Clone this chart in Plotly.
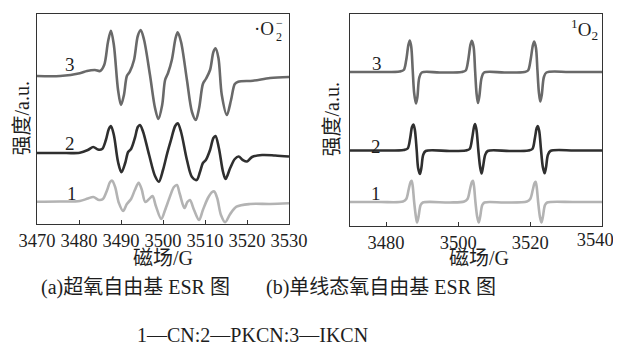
import plotly.graph_objects as go

# ---------------- Panel (a): superoxide radical ESR ----------------
a_ticks = [3470, 3480, 3490, 3500, 3510, 3520, 3530]

a_ikcn_x = [3470, 3475.5, 3480.2, 3481.9, 3483.8, 3485, 3486, 3486.9, 3487.6, 3488.3, 3489.3, 3490,
            3490.7, 3491.4, 3492.1, 3493.1, 3494, 3494.7, 3495.5, 3496.9, 3498.1, 3498.9, 3499.8,
            3500.5, 3501.2, 3502.1, 3503, 3503.5, 3504.3, 3505.7, 3506.9, 3507.8, 3508.6, 3509.5,
            3510.2, 3511.2, 3512, 3512.5, 3513.2, 3514, 3515.2, 3516.2, 3517.1, 3517.9, 3521.4,
            3525.5, 3530]
a_ikcn_y = [148, 148, 150.7, 153, 154, 153, 159, 182, 193.3, 179, 134, 119,
            129, 148, 152.3, 164, 188, 194, 184, 149, 116, 105, 119,
            144, 151, 164, 186, 191.7, 182, 144, 112, 104, 116, 140,
            145, 154, 172, 175.7, 166, 129, 109, 124, 140, 142.3, 143.3,
            146, 147]

a_pkcn_x = [3470, 3475.5, 3480.2, 3482.1, 3483.4, 3484.5, 3485.5, 3486.4, 3487.1, 3487.6, 3488.3,
            3489.3, 3490.1, 3491, 3491.7, 3492.4, 3493.3, 3494, 3494.5, 3495.2, 3496.7, 3498.1,
            3499, 3500, 3501, 3501.9, 3502.9, 3503.5, 3504.3, 3505.7, 3506.9, 3508, 3508.8,
            3509.5, 3510.2, 3511.2, 3512, 3512.5, 3513.3, 3514.3, 3514.9, 3516, 3517.1, 3518,
            3519, 3520, 3521.2, 3523.6, 3526.7, 3530]
a_pkcn_y = [71, 71, 71.3, 74, 77, 74.5, 75, 84, 95, 98, 89,
            62, 51.7, 61, 72, 75, 86, 97, 99, 93, 69, 48,
            42.3, 54, 70.7, 84, 98, 100.7, 92, 64, 47, 44, 52,
            61, 64, 74, 86, 88, 76, 52, 45, 56, 65, 67.5,
            64, 62.5, 67, 69, 68.5, 67.5]

a_cn_x = [3470, 3475.5, 3480.2, 3482.1, 3483.4, 3484.8, 3485.7, 3486.7, 3487.4, 3487.9, 3488.6,
          3489.5, 3490.5, 3491.4, 3492.4, 3493.3, 3494.2, 3494.9, 3495.8, 3496.7, 3497.5, 3498.3,
          3499.6, 3500.5, 3501.7, 3502.6, 3503.3, 3504, 3505.1, 3505.8, 3506.4, 3507.4, 3508.6,
          3509.5, 3510.7, 3511.7, 3512.2, 3512.9, 3513.8, 3514.8, 3516, 3517.5, 3520.7, 3525.5,
          3530]
a_cn_y = [22.3, 22.5, 23, 25.5, 27, 24, 25, 34, 42, 43.3, 37,
          21, 13, 20, 25, 34, 41.3, 35, 22, 25, 28, 18,
          5, 14, 28, 37, 39, 30, 16, 22, 24, 14, 4,
          14, 26, 32, 32.5, 26, 9, 1.8, 10, 17.3, 20, 20,
          20.7]

# ---------------- Panel (b): singlet oxygen ESR ----------------
b_ticks = [3480, 3500, 3520]
b_last_tick = [3540]

b_ikcn_x = [3470, 3478.3, 3483.8, 3484.9, 3485.6, 3486.2, 3486.6, 3487, 3487.4, 3487.8, 3488.3,
            3488.7, 3489.2, 3489.9, 3494.9, 3501, 3502.1, 3502.8, 3503.4, 3503.8, 3504.3, 3504.7,
            3505.1, 3505.5, 3505.9, 3506.5, 3507.2, 3512.9, 3518.4, 3519.4, 3520.1, 3520.7,
            3521.1, 3521.6, 3522, 3522.4, 3522.8, 3523.2, 3523.8, 3524.5, 3530.9, 3540]
b_ikcn_y = [154, 154, 154.5, 156, 166, 181, 185.5, 179, 156, 133, 122.5,
            129, 148, 153.5, 153.5, 154, 155.5, 166, 181, 185.3, 179, 156,
            133, 123, 130, 148, 153.5, 153.5, 154, 155.5, 166, 180,
            184.5, 178, 156, 134, 124.5, 131, 149, 153.5, 154, 154]

b_pkcn_x = [3470, 3478.3, 3484.9, 3486, 3486.7, 3487.2, 3487.6, 3488, 3488.5, 3488.9, 3489.4,
            3489.8, 3490.3, 3491, 3497.7, 3502.1, 3503.2, 3503.9, 3504.4, 3504.7, 3505.1, 3505.6,
            3506.1, 3506.5, 3506.9, 3507.5, 3508.2, 3514.3, 3519.5, 3520.6, 3521.3, 3521.8,
            3522.1, 3522.5, 3523, 3523.5, 3524, 3524.4, 3524.9, 3525.6, 3532.3, 3540]
b_pkcn_y = [75.5, 75.5, 76, 77.5, 88, 99, 101.5, 96, 76, 58, 52,
            58, 71, 75, 75, 75.5, 77, 88, 99, 102, 96, 76,
            59, 52.5, 59, 71, 75, 75, 75.5, 77, 88, 98,
            100, 95, 76, 59, 52.7, 59, 71, 75, 75.5, 75.5]

b_cn_x = [3470, 3478.3, 3484.7, 3485.6, 3486.3, 3486.8, 3487.1, 3487.4, 3487.8, 3488.3, 3488.6,
          3489, 3489.6, 3490.2, 3497.7, 3501.7, 3502.6, 3503.3, 3503.8, 3504.1, 3504.4, 3504.8,
          3505.3, 3505.7, 3506.1, 3506.7, 3507.3, 3513, 3519.1, 3520, 3520.7, 3521.2, 3521.5,
          3521.8, 3522.2, 3522.7, 3523.1, 3523.5, 3524.1, 3524.7, 3532, 3540]
b_cn_y = [24, 24, 24.5, 27, 37, 44, 45.3, 40, 24, 9, 3.5,
          9, 21, 23.5, 23.5, 24.5, 27, 37, 44, 45.3, 40, 24,
          9, 3.5, 9, 21, 23.5, 23.5, 24.5, 27, 36, 43, 44.3,
          39, 24, 9, 3.5, 9, 21, 23.5, 24, 24]

series_names = ["1", "2", "3"]
series_colors = ["#b3b3b3", "#2f2f2f", "#696969"]

FONT = "Liberation Serif, Noto Sans CJK SC, serif"
TXT = "#1e1e1e"
W, H = 621, 349
OFF = 8  # page body margin of the default HTML page


def px(x):
    return (x - OFF) / W


def py(y):
    return 1 - (y - OFF) / H


fig = go.Figure()

panel_a = [(a_cn_x, a_cn_y), (a_pkcn_x, a_pkcn_y), (a_ikcn_x, a_ikcn_y)]
panel_b = [(b_cn_x, b_cn_y), (b_pkcn_x, b_pkcn_y), (b_ikcn_x, b_ikcn_y)]

for (xs, ys), c in zip(panel_a, series_colors):
    fig.add_trace(go.Scatter(x=xs, y=ys, mode="lines", xaxis="x", yaxis="y",
                             line=dict(color=c, width=2.6, shape="spline", smoothing=0.9),
                             showlegend=False, hoverinfo="skip"))
for (xs, ys), c in zip(panel_b, series_colors):
    fig.add_trace(go.Scatter(x=xs, y=ys, mode="lines", xaxis="x2", yaxis="y2",
                             line=dict(color=c, width=2.6, shape="spline", smoothing=0.9),
                             showlegend=False, hoverinfo="skip"))
# empty carrier trace so the helper axis for the last tick label is drawn
fig.add_trace(go.Scatter(x=[], y=[], mode="lines", xaxis="x3", yaxis="y2",
                         showlegend=False, hoverinfo="skip"))

axis_common = dict(showline=True, mirror=True, linecolor="#333333", linewidth=1.3,
                   showgrid=False, zeroline=False, automargin=False)
xaxis_common = dict(tickangle=0, ticks="inside", ticklen=4, tickwidth=1.2, tickcolor="#333333",
                    ticklabeloverflow="allow",
                    tickfont=dict(size=18.5, family=FONT, color=TXT))

fig.update_layout(
    width=W, height=H,
    margin=dict(l=0, r=0, t=0, b=0, pad=0, autoexpand=False),
    paper_bgcolor="white", plot_bgcolor="white",
    font=dict(family=FONT, size=19, color=TXT),
    xaxis=dict(domain=[px(37), px(289)], range=[3470, 3530], tickvals=a_ticks,
               anchor="y", **xaxis_common, **axis_common),
    yaxis=dict(domain=[py(224), py(14)], range=[0, 210], showticklabels=False, ticks="",
               anchor="x", **axis_common),
    xaxis2=dict(domain=[px(350), px(602.3)], range=[3470, 3540], tickvals=b_ticks,
                anchor="y2", **xaxis_common, **axis_common),
    xaxis3=dict(domain=[px(350), px(602.3)], range=[3470, 3540], tickvals=b_last_tick,
                overlaying="x2", anchor="y2", side="bottom", showline=False, ticks="",
                showgrid=False, zeroline=False, automargin=False, tickangle=0,
                ticklabeloverflow="allow", ticklabelshift=-7,
                tickfont=dict(size=18.5, family=FONT, color=TXT)),
    yaxis2=dict(domain=[py(226), py(14)], range=[0, 212], showticklabels=False, ticks="",
                anchor="x2", **axis_common),
)

ann = []
# series number labels
a_label_pos = [(3478.3, 31), (3477.9, 81), (3477.9, 159)]
b_label_pos = [(3477.2, 32.7), (3477.2, 79.3), (3477.4, 162.7)]
for name, (x, y) in zip(series_names, a_label_pos):
    ann.append(dict(x=x, y=y, xref="x", yref="y", text=name, showarrow=False,
                    xanchor="center", yanchor="middle",
                    font=dict(size=19, family=FONT, color=TXT)))
for name, (x, y) in zip(series_names, b_label_pos):
    ann.append(dict(x=x, y=y, xref="x2", yref="y2", text=name, showarrow=False,
                    xanchor="center", yanchor="middle",
                    font=dict(size=19, family=FONT, color=TXT)))


def paper_text(x, y, text, size, xanchor="center", angle=0):
    return dict(x=px(x), y=py(y), xref="paper", yref="paper", text=text, showarrow=False,
                xanchor=xanchor, yanchor="middle", textangle=angle,
                font=dict(size=size, family=FONT, color=TXT))


# species labels
ann.append(paper_text(276, 29, "·O", 19, xanchor="right"))
ann.append(paper_text(279, 37, "2", 12))
ann.append(paper_text(279, 23, "−", 12))
ann.append(paper_text(584, 30, "<sup>1</sup>O<sub>2</sub>", 19))

# axis titles
ann.append(paper_text(163, 258, "磁场/G", 20))
ann.append(paper_text(479, 258, "磁场/G", 20))
ann.append(paper_text(21.5, 119, "强度/a.u.", 20, angle=-90))
ann.append(paper_text(331.5, 120, "强度/a.u.", 20, angle=-90))

# captions
ann.append(paper_text(135, 287, "(a)超氧自由基 ESR 图", 20))
ann.append(paper_text(381, 287, "(b)单线态氧自由基 ESR 图", 20))
ann.append(paper_text(252, 335, "1—CN:2—PKCN:3—IKCN", 20))

fig.update_layout(annotations=ann)
fig.write_html("out.html")
